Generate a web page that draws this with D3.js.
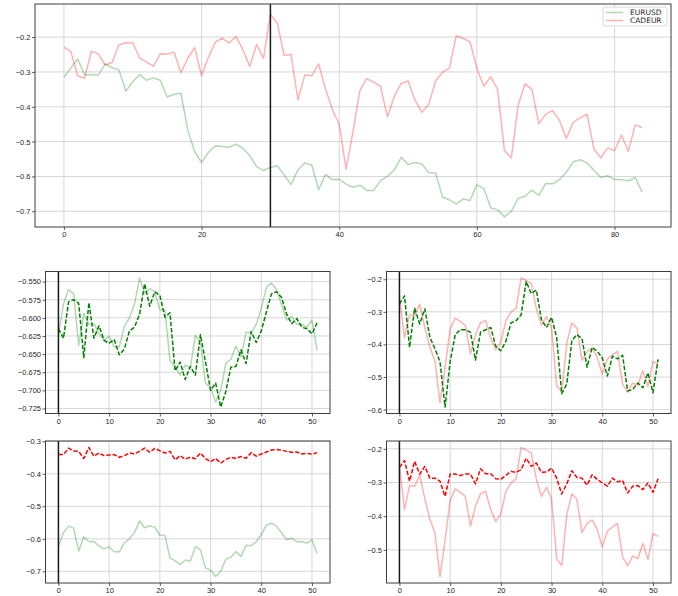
<!DOCTYPE html>
<html>
<head>
<meta charset="utf-8">
<script src="https://cdn.jsdelivr.net/npm/d3@7"></script>
<style>
  body { margin: 0; background: #fff; }
  svg { display: block; font-family: "DejaVu Sans", sans-serif; }
  .grid line { stroke: #d2d2d2; stroke-width: 0.9; }
  .axis text { fill: #262626; font-size: 7.5px; }
  .axis line { stroke: #333; stroke-width: 0.8; }
  .axis path { display: none; }
  .frame { fill: none; stroke: #3c3c3c; stroke-width: 1; }
</style>
</head>
<body>
<div id="chart"></div>
<script>
// full history (first 33) and the lower panels (rest)
var eurusd = [-0.315, -0.289, -0.263, -0.308, -0.308, -0.309, -0.277, -0.288, -0.294, -0.355,
  -0.328, -0.307, -0.324, -0.317, -0.324, -0.372, -0.364, -0.361, -0.467, -0.529,
  -0.560, -0.531, -0.512, -0.514, -0.516, -0.507, -0.519, -0.540, -0.572, -0.583,
  -0.574, -0.569, -0.596,
  -0.623, -0.581, -0.561, -0.567, -0.638, -0.594, -0.609, -0.608, -0.622, -0.631,
  -0.625, -0.640, -0.640, -0.612, -0.600, -0.581, -0.545, -0.566, -0.560, -0.564,
  -0.589, -0.590, -0.659, -0.667, -0.679, -0.665, -0.669, -0.624, -0.634, -0.690,
  -0.696, -0.716, -0.700, -0.663, -0.657, -0.639, -0.654, -0.620, -0.621, -0.609,
  -0.587, -0.558, -0.552, -0.561, -0.582, -0.603, -0.598, -0.609, -0.609, -0.613,
  -0.603, -0.645];

var cadeur = [-0.229, -0.241, -0.311, -0.318, -0.241, -0.248, -0.280, -0.273, -0.222, -0.216,
  -0.216, -0.260, -0.271, -0.284, -0.248, -0.249, -0.243, -0.302, -0.260, -0.230,
  -0.311, -0.258, -0.214, -0.203, -0.217, -0.198, -0.236, -0.284, -0.221, -0.261,
  -0.134, -0.160, -0.252,
  -0.250, -0.380, -0.309, -0.311, -0.277, -0.348, -0.408, -0.450, -0.579, -0.471,
  -0.353, -0.319, -0.329, -0.341, -0.429, -0.370, -0.333, -0.326, -0.380, -0.416,
  -0.393, -0.326, -0.301, -0.289, -0.196, -0.204, -0.213, -0.290, -0.341, -0.314,
  -0.349, -0.525, -0.547, -0.395, -0.334, -0.350, -0.449, -0.421, -0.411, -0.439,
  -0.491, -0.444, -0.432, -0.421, -0.521, -0.547, -0.518, -0.526, -0.481, -0.528,
  -0.452, -0.460];

var seriesNames = ["EURUSD", "CADEUR"];
var splitIndex = 30;   // black marker in the top panel
var testStart = 33;    // lower panels show the history from here on

// dashed green predictions (middle row)
var eurusdPredA = [-0.615, -0.628, -0.578, -0.575, -0.580, -0.655, -0.579, -0.628, -0.611, -0.631,
  -0.635, -0.630, -0.651, -0.643, -0.618, -0.613, -0.595, -0.553, -0.584, -0.564,
  -0.569, -0.599, -0.593, -0.673, -0.661, -0.685, -0.667, -0.679, -0.623, -0.661,
  -0.700, -0.690, -0.723, -0.702, -0.668, -0.667, -0.644, -0.663, -0.619, -0.634,
  -0.618, -0.592, -0.567, -0.564, -0.572, -0.595, -0.608, -0.601, -0.613, -0.615,
  -0.622, -0.607];
var cadeurPredA = [-0.276, -0.251, -0.409, -0.289, -0.337, -0.291, -0.378, -0.413, -0.453, -0.592,
  -0.453, -0.370, -0.355, -0.355, -0.362, -0.448, -0.362, -0.355, -0.348, -0.406,
  -0.419, -0.390, -0.334, -0.327, -0.309, -0.207, -0.244, -0.233, -0.324, -0.348,
  -0.317, -0.378, -0.551, -0.521, -0.388, -0.370, -0.382, -0.470, -0.409, -0.421,
  -0.441, -0.497, -0.436, -0.444, -0.433, -0.543, -0.538, -0.518, -0.533, -0.487,
  -0.548, -0.446];

// dashed red predictions (bottom row)
var eurusdPredB = [-0.341, -0.341, -0.321, -0.330, -0.331, -0.353, -0.319, -0.346, -0.336, -0.344,
  -0.342, -0.341, -0.349, -0.344, -0.336, -0.339, -0.331, -0.321, -0.334, -0.322,
  -0.329, -0.336, -0.331, -0.357, -0.344, -0.355, -0.349, -0.354, -0.336, -0.353,
  -0.363, -0.353, -0.367, -0.356, -0.349, -0.353, -0.347, -0.352, -0.335, -0.346,
  -0.339, -0.333, -0.327, -0.325, -0.327, -0.331, -0.334, -0.333, -0.339, -0.337,
  -0.340, -0.335];
var cadeurPredB = [-0.255, -0.235, -0.296, -0.237, -0.275, -0.252, -0.287, -0.287, -0.296, -0.341,
  -0.275, -0.275, -0.279, -0.275, -0.275, -0.304, -0.259, -0.274, -0.274, -0.289,
  -0.290, -0.279, -0.267, -0.270, -0.262, -0.228, -0.252, -0.242, -0.270, -0.269,
  -0.257, -0.287, -0.334, -0.304, -0.265, -0.285, -0.287, -0.308, -0.277, -0.291,
  -0.301, -0.311, -0.287, -0.298, -0.294, -0.331, -0.311, -0.309, -0.321, -0.301,
  -0.329, -0.289];

var topXTicks = [0, 20, 40, 60, 80];
var lowXTicks = [0, 10, 20, 30, 40, 50];
var topYTicks = [-0.7, -0.6, -0.5, -0.4, -0.3, -0.2];
var midLeftYTicks = [-0.725, -0.7, -0.675, -0.65, -0.625, -0.6, -0.575, -0.55];
var midRightYTicks = [-0.6, -0.5, -0.4, -0.3, -0.2];
var botLeftYTicks = [-0.7, -0.6, -0.5, -0.4, -0.3];
var botRightYTicks = [-0.5, -0.4, -0.3, -0.2];

var create_chart = function() {
  var width = 678, height = 596;
  var lightGreen = "rgba(0,128,0,0.3)";
  var lightRed = "rgba(255,0,0,0.3)";

  var svg = d3.select("#chart").append("svg")
      .attr("width", width)
      .attr("height", height);

  var minus = function(f) {
    return function(d) { return f(d).replace("-", "\u2212"); };
  };

  var draw_panel = function(box, lines, xTicks, yTicks, yFormat, markerX) {
    var n = d3.max(lines, function(l) { return l.values.length; }) - 1;
    var x = d3.scaleLinear()
        .domain([-n * 0.05, n * 1.05])
        .range([box.left, box.right]);

    var all = [];
    lines.forEach(function(l) { all = all.concat(l.values); });
    var lo = d3.min(all), hi = d3.max(all), pad = (hi - lo) * 0.05;
    var y = d3.scaleLinear()
        .domain([lo - pad, hi + pad])
        .range([box.bottom, box.top]);

    var g = svg.append("g");

    // grid
    var grid = g.append("g").attr("class", "grid");
    grid.selectAll(".gx").data(xTicks).enter().append("line")
        .attr("x1", function(d) { return x(d); })
        .attr("x2", function(d) { return x(d); })
        .attr("y1", box.top)
        .attr("y2", box.bottom);
    grid.selectAll(".gy").data(yTicks).enter().append("line")
        .attr("x1", box.left)
        .attr("x2", box.right)
        .attr("y1", function(d) { return y(d); })
        .attr("y2", function(d) { return y(d); });

    // series
    var line = d3.line()
        .x(function(d, i) { return x(i); })
        .y(function(d) { return y(d); });

    lines.forEach(function(l) {
      g.append("path")
          .attr("d", line(l.values))
          .attr("fill", "none")
          .attr("stroke", l.color)
          .attr("stroke-width", 1.5)
          .attr("stroke-linejoin", "round")
          .attr("stroke-dasharray", l.dashed ? "4.4,1.9" : null);
    });

    // marker
    g.append("line")
        .attr("x1", x(markerX))
        .attr("x2", x(markerX))
        .attr("y1", box.top)
        .attr("y2", box.bottom)
        .attr("stroke", "#1a1a1a")
        .attr("stroke-width", 1.5);

    g.append("rect")
        .attr("class", "frame")
        .attr("x", box.left)
        .attr("y", box.top)
        .attr("width", box.right - box.left)
        .attr("height", box.bottom - box.top);

    g.append("g")
        .attr("class", "axis")
        .attr("transform", "translate(0," + box.bottom + ")")
        .call(d3.axisBottom(x).tickValues(xTicks).tickSize(3).tickPadding(2)
          .tickFormat(d3.format("d")));

    g.append("g")
        .attr("class", "axis")
        .attr("transform", "translate(" + box.left + ",0)")
        .call(d3.axisLeft(y).tickValues(yTicks).tickSize(3).tickPadding(1.5)
          .tickFormat(minus(d3.format(yFormat))));

    return { x: x, y: y };
  };

  // Top panel: full history
  draw_panel({ left: 35, right: 671, top: 4, bottom: 227 },
    [{ values: eurusd, color: lightGreen }, { values: cadeur, color: lightRed }],
    topXTicks, topYTicks, ".1f", splitIndex);

  var eurTest = eurusd.slice(testStart);
  var cadTest = cadeur.slice(testStart);

  draw_panel({ left: 45.5, right: 330, top: 271.5, bottom: 413.5 },
    [{ values: eurTest, color: lightGreen }, { values: eurusdPredA, color: "#008000", dashed: true }],
    lowXTicks, midLeftYTicks, ".3f", 0);

  draw_panel({ left: 386.5, right: 671, top: 271.5, bottom: 413.5 },
    [{ values: cadTest, color: lightRed }, { values: cadeurPredA, color: "#008000", dashed: true }],
    lowXTicks, midRightYTicks, ".1f", 0);

  draw_panel({ left: 45.5, right: 330, top: 441, bottom: 583 },
    [{ values: eurTest, color: lightGreen }, { values: eurusdPredB, color: "#ff0000", dashed: true }],
    lowXTicks, botLeftYTicks, ".1f", 0);

  draw_panel({ left: 386.5, right: 671, top: 441, bottom: 583 },
    [{ values: cadTest, color: lightRed }, { values: cadeurPredB, color: "#ff0000", dashed: true }],
    lowXTicks, botRightYTicks, ".1f", 0);

  // Legend
  var legend = svg.append("g").attr("transform", "translate(603,7)");
  legend.append("rect")
      .attr("width", 64)
      .attr("height", 19)
      .attr("rx", 2)
      .attr("fill", "#fff")
      .attr("fill-opacity", 0.8)
      .attr("stroke", "#d0d0d0")
      .attr("stroke-width", 0.8);

  var legendColors = [lightGreen, lightRed];
  seriesNames.forEach(function(name, i) {
    var ly = 5.5 + i * 8;
    legend.append("line")
        .attr("x1", 3).attr("x2", 20)
        .attr("y1", ly).attr("y2", ly)
        .attr("stroke", legendColors[i])
        .attr("stroke-width", 1.5);
    legend.append("text")
        .attr("x", 27)
        .attr("y", ly + 2.7)
        .attr("font-size", "7.5px")
        .attr("fill", "#262626")
        .text(name);
  });
};

create_chart();
</script>
</body>
</html>
